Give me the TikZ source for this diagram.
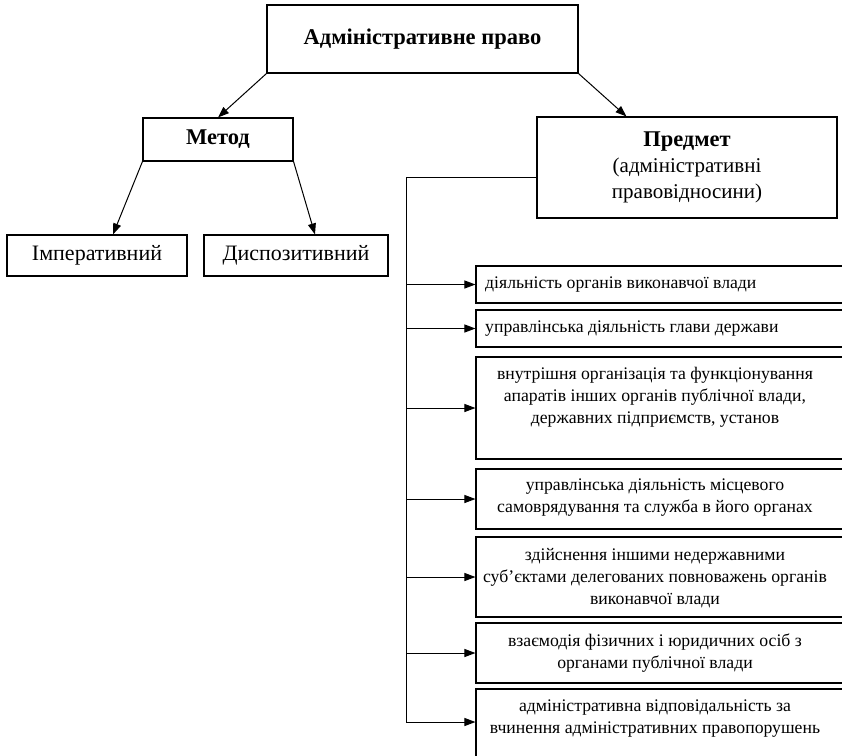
\documentclass[tikz,border=0pt]{standalone}
\usepackage{fontspec}
\setmainfont{Liberation Serif}
\usetikzlibrary{arrows.meta}
\begin{document}
\begin{tikzpicture}[x=1pt,y=-1pt,
  box/.style={draw, line width=1.1pt, inner sep=0pt, align=center,
              font=\fontsize{22}{24}\selectfont},
  frame/.style={draw, line width=1.1pt, inner sep=0pt, minimum width=394pt},
  txt/.style={inner sep=0pt, align=center, font=\fontsize{17.7}{22}\selectfont},
  head/.style={font=\bfseries\fontsize{22.5}{24}\selectfont},
  link/.style={line width=1pt, -{Triangle[length=11pt,width=8pt]}},
  bus/.style={line width=1pt}]
\useasboundingbox (0,0) rectangle (842,755);
\clip (0,0) rectangle (842,755);

% top level
\node[box, head, minimum width=311pt, minimum height=68pt] (law) at (422.5,39) {Адміністративне право};

% method branch
\node[box, head, minimum width=150pt, minimum height=43pt] (meth) at (218,139.5) {Метод};
\node[box, minimum width=180pt, minimum height=41pt] (imp) at (97,255.5) {Імперативний};
\node[box, minimum width=184pt, minimum height=41pt] (disp) at (296,255.5) {Диспозитивний};

% subject branch
\node[box, minimum width=300pt, minimum height=101pt, font=\fontsize{21}{26}\selectfont] (pred) at (687,167.5)
  {{\bfseries\fontsize{22.5}{26}\selectfont Предмет}\\(адміністративні\\правовідносини)};

\draw[link] (law.south west) -- (meth.north);
\draw[link] (law.south east) -- ([xshift=90pt]pred.north west);
\draw[link] (meth.south west) -- ([xshift=16pt]imp.north);
\draw[link] (meth.south east) -- ([xshift=19pt]disp.north);

% list of relations
\node[frame, minimum height=37pt] (b1) at (673,284.5) {};
\node[frame, minimum height=37pt] (b2) at (673,328.5) {};
\node[frame, minimum height=102pt] (b3) at (673,408) {};
\node[frame, minimum height=60pt] (b4) at (673,499) {};
\node[frame, minimum height=80pt] (b5) at (673,577) {};
\node[frame, minimum height=60pt] (b6) at (673,653) {};
\node[frame, minimum height=68pt] (b7) at (673,723) {};

\node[txt, anchor=west] (t1) at (485,284.5) {діяльність органів виконавчої влади};
\node[txt, anchor=west] (t2) at (485,328.5) {управлінська діяльність глави держави};
\node[txt] (t3) at (655,397) {внутрішня організація та функціонування\\апаратів інших органів публічної влади,\\державних підприємств, установ};
\node[txt] (t4) at (655,498) {управлінська діяльність місцевого\\самоврядування та служба в його органах};
\node[txt] (t5) at (655,578) {здійснення іншими недержавними\\суб’єктами делегованих повноважень органів\\виконавчої влади};
\node[txt] (t6) at (655,653) {взаємодія фізичних і юридичних осіб з\\органами публічної влади};
\node[txt] (t7) at (655,719) {адміністративна відповідальність за\\вчинення адміністративних правопорушень};

% bus line
\coordinate (bustop) at (406,177);
\coordinate (busend) at (406,722);
\draw[bus] (bustop -| pred.west) -- (bustop) -- (busend);
\foreach \b in {b1,b2,b3,b4,b5,b6}
  \draw[link] (bustop |- \b.west) -- (\b.west);
\draw[link] (busend) -- (busend -| b7.west);
\end{tikzpicture}
\end{document}
